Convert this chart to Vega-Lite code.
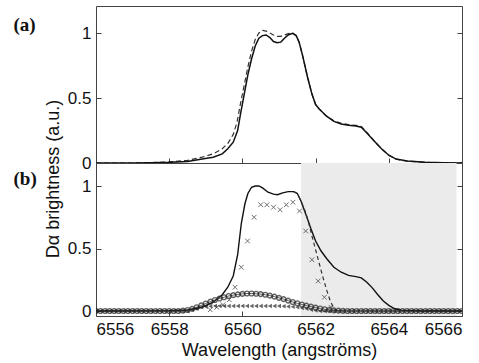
{
"$schema":"https://vega.github.io/schema/vega-lite/v6.json",
"padding":{"left":12,"top":5,"right":5,"bottom":5},
"background":"white",
"spacing":0,
"bounds":"flush",
"config":{
 "font":"Liberation Sans",
 "view":{"stroke":"#444","strokeWidth":1},
 "axis":{"labelFont":"Liberation Sans","labelFontSize":17,"labelColor":"#111","titleFont":"Liberation Sans","titleFontSize":18,"titleFontWeight":"normal","titleColor":"#111","domain":false,"grid":false,"tickSize":-5,"tickColor":"#444","labelPadding":10}
},
"datasets":{
 "lines":[
  {"s":"A1","x":6556,"y":0},{"s":"A1","x":6557,"y":0},{"s":"A1","x":6557.5,"y":0.002},{"s":"A1","x":6558,"y":0.005},{"s":"A1","x":6558.5,"y":0.012},{"s":"A1","x":6558.9,"y":0.03},{"s":"A1","x":6559.2,"y":0.045},{"s":"A1","x":6559.45,"y":0.07},{"s":"A1","x":6559.6,"y":0.11},{"s":"A1","x":6559.75,"y":0.16},{"s":"A1","x":6559.87,"y":0.25},{"s":"A1","x":6559.95,"y":0.38},{"s":"A1","x":6560.05,"y":0.53},{"s":"A1","x":6560.15,"y":0.68},{"s":"A1","x":6560.25,"y":0.8},{"s":"A1","x":6560.35,"y":0.9},{"s":"A1","x":6560.45,"y":0.96},{"s":"A1","x":6560.55,"y":0.98},{"s":"A1","x":6560.65,"y":0.985},{"s":"A1","x":6560.75,"y":0.965},{"s":"A1","x":6560.85,"y":0.935},{"s":"A1","x":6560.95,"y":0.925},{"s":"A1","x":6561.05,"y":0.93},{"s":"A1","x":6561.15,"y":0.96},{"s":"A1","x":6561.25,"y":0.985},{"s":"A1","x":6561.37,"y":0.998},{"s":"A1","x":6561.47,"y":0.98},{"s":"A1","x":6561.55,"y":0.93},{"s":"A1","x":6561.65,"y":0.82},{"s":"A1","x":6561.78,"y":0.66},{"s":"A1","x":6561.9,"y":0.53},{"s":"A1","x":6562.0,"y":0.45},{"s":"A1","x":6562.1,"y":0.415},{"s":"A1","x":6562.3,"y":0.36},{"s":"A1","x":6562.5,"y":0.32},{"s":"A1","x":6562.7,"y":0.3},{"s":"A1","x":6562.9,"y":0.29},{"s":"A1","x":6563.1,"y":0.285},{"s":"A1","x":6563.25,"y":0.275},{"s":"A1","x":6563.4,"y":0.23},{"s":"A1","x":6563.6,"y":0.17},{"s":"A1","x":6563.8,"y":0.11},{"s":"A1","x":6564.0,"y":0.06},{"s":"A1","x":6564.2,"y":0.03},{"s":"A1","x":6564.5,"y":0.015},{"s":"A1","x":6565,"y":0.005},{"s":"A1","x":6565.5,"y":0.002},{"s":"A1","x":6566,"y":0},
  {"s":"A2","x":6556,"y":0},{"s":"A2","x":6557,"y":0},{"s":"A2","x":6557.5,"y":0.003},{"s":"A2","x":6558,"y":0.008},{"s":"A2","x":6558.5,"y":0.02},{"s":"A2","x":6558.9,"y":0.045},{"s":"A2","x":6559.2,"y":0.07},{"s":"A2","x":6559.45,"y":0.11},{"s":"A2","x":6559.6,"y":0.15},{"s":"A2","x":6559.75,"y":0.22},{"s":"A2","x":6559.85,"y":0.31},{"s":"A2","x":6559.95,"y":0.46},{"s":"A2","x":6560.05,"y":0.6},{"s":"A2","x":6560.15,"y":0.74},{"s":"A2","x":6560.25,"y":0.86},{"s":"A2","x":6560.35,"y":0.95},{"s":"A2","x":6560.45,"y":1.0},{"s":"A2","x":6560.55,"y":1.02},{"s":"A2","x":6560.65,"y":1.015},{"s":"A2","x":6560.75,"y":1.0},{"s":"A2","x":6560.85,"y":0.985},{"s":"A2","x":6560.95,"y":0.975},{"s":"A2","x":6561.05,"y":0.975},{"s":"A2","x":6561.15,"y":0.985},{"s":"A2","x":6561.25,"y":0.995},{"s":"A2","x":6561.37,"y":1.0},{"s":"A2","x":6561.47,"y":0.98},{"s":"A2","x":6561.55,"y":0.93},{"s":"A2","x":6561.65,"y":0.82},{"s":"A2","x":6561.78,"y":0.66},{"s":"A2","x":6561.9,"y":0.53},{"s":"A2","x":6562.0,"y":0.45},{"s":"A2","x":6562.1,"y":0.415},{"s":"A2","x":6562.3,"y":0.36},{"s":"A2","x":6562.5,"y":0.325},{"s":"A2","x":6562.7,"y":0.305},{"s":"A2","x":6562.9,"y":0.295},{"s":"A2","x":6563.1,"y":0.29},{"s":"A2","x":6563.25,"y":0.28},{"s":"A2","x":6563.4,"y":0.235},{"s":"A2","x":6563.6,"y":0.17},{"s":"A2","x":6563.8,"y":0.11},{"s":"A2","x":6564.0,"y":0.06},{"s":"A2","x":6564.2,"y":0.03},{"s":"A2","x":6564.5,"y":0.015},{"s":"A2","x":6565,"y":0.005},{"s":"A2","x":6565.5,"y":0.002},{"s":"A2","x":6566,"y":0},
  {"s":"B1","x":6556,"y":0},{"s":"B1","x":6558,"y":0.003},{"s":"B1","x":6558.5,"y":0.008},{"s":"B1","x":6558.9,"y":0.03},{"s":"B1","x":6559.2,"y":0.07},{"s":"B1","x":6559.45,"y":0.13},{"s":"B1","x":6559.6,"y":0.19},{"s":"B1","x":6559.75,"y":0.28},{"s":"B1","x":6559.87,"y":0.45},{"s":"B1","x":6559.97,"y":0.7},{"s":"B1","x":6560.07,"y":0.86},{"s":"B1","x":6560.15,"y":0.94},{"s":"B1","x":6560.25,"y":0.99},{"s":"B1","x":6560.35,"y":1.0},{"s":"B1","x":6560.45,"y":1.0},{"s":"B1","x":6560.55,"y":0.985},{"s":"B1","x":6560.7,"y":0.95},{"s":"B1","x":6560.85,"y":0.935},{"s":"B1","x":6560.96,"y":0.93},{"s":"B1","x":6561.1,"y":0.945},{"s":"B1","x":6561.25,"y":0.955},{"s":"B1","x":6561.4,"y":0.955},{"s":"B1","x":6561.5,"y":0.94},{"s":"B1","x":6561.6,"y":0.88},{"s":"B1","x":6561.75,"y":0.76},{"s":"B1","x":6561.87,"y":0.66},{"s":"B1","x":6562.0,"y":0.56},{"s":"B1","x":6562.15,"y":0.48},{"s":"B1","x":6562.3,"y":0.42},{"s":"B1","x":6562.5,"y":0.35},{"s":"B1","x":6562.7,"y":0.31},{"s":"B1","x":6562.9,"y":0.285},{"s":"B1","x":6563.1,"y":0.275},{"s":"B1","x":6563.25,"y":0.265},{"s":"B1","x":6563.4,"y":0.23},{"s":"B1","x":6563.55,"y":0.185},{"s":"B1","x":6563.7,"y":0.13},{"s":"B1","x":6563.85,"y":0.08},{"s":"B1","x":6564.0,"y":0.045},{"s":"B1","x":6564.15,"y":0.02},{"s":"B1","x":6564.35,"y":0.005},{"s":"B1","x":6565,"y":0},{"s":"B1","x":6566,"y":0},
  {"s":"B2","x":6561.4,"y":0.955},{"s":"B2","x":6561.5,"y":0.94},{"s":"B2","x":6561.6,"y":0.88},{"s":"B2","x":6561.7,"y":0.81},{"s":"B2","x":6561.8,"y":0.72},{"s":"B2","x":6561.9,"y":0.6},{"s":"B2","x":6562.0,"y":0.49},{"s":"B2","x":6562.1,"y":0.38},{"s":"B2","x":6562.2,"y":0.27},{"s":"B2","x":6562.3,"y":0.17},{"s":"B2","x":6562.4,"y":0.08},{"s":"B2","x":6562.5,"y":0.02},{"s":"B2","x":6562.6,"y":0}
 ],
 "xmarks":[
  {"x":6559.12,"y":0.01},{"x":6559.3,"y":0.03},{"x":6559.47,"y":0.05},{"x":6559.64,"y":0.09},{"x":6559.8,"y":0.19},{"x":6559.97,"y":0.35},{"x":6560.14,"y":0.56},{"x":6560.32,"y":0.75},{"x":6560.5,"y":0.85},{"x":6560.67,"y":0.85},{"x":6560.85,"y":0.83},{"x":6561.03,"y":0.81},{"x":6561.2,"y":0.85},{"x":6561.38,"y":0.87},{"x":6561.56,"y":0.8},{"x":6561.73,"y":0.64},{"x":6561.9,"y":0.41},{"x":6562.07,"y":0.24},{"x":6562.24,"y":0.11},{"x":6562.42,"y":0.03}
 ],
 "grid":[
  {"x":6556,"c":0,"t":0},{"x":6556.125,"c":0,"t":0},{"x":6556.25,"c":0,"t":0},{"x":6556.375,"c":0,"t":0},{"x":6556.5,"c":0,"t":0},{"x":6556.625,"c":0,"t":0},{"x":6556.75,"c":0,"t":0},{"x":6556.875,"c":0,"t":0},{"x":6557,"c":0,"t":0},{"x":6557.125,"c":0,"t":0},{"x":6557.25,"c":0,"t":0},{"x":6557.375,"c":0,"t":0},{"x":6557.5,"c":0,"t":0},{"x":6557.625,"c":0,"t":0},{"x":6557.75,"c":0,"t":0},{"x":6557.875,"c":0,"t":0},{"x":6558,"c":0,"t":0},{"x":6558.125,"c":0,"t":0},{"x":6558.25,"c":0,"t":0},
  {"x":6558.375,"c":0.003,"t":0},{"x":6558.5,"c":0.008,"t":0},{"x":6558.625,"c":0.017,"t":0.01},{"x":6558.75,"c":0.03,"t":0.02},{"x":6558.875,"c":0.045,"t":0.03},{"x":6559,"c":0.06,"t":0.035},{"x":6559.125,"c":0.075,"t":0.038},{"x":6559.25,"c":0.088,"t":0.04},{"x":6559.375,"c":0.1,"t":0.04},{"x":6559.5,"c":0.11,"t":0.04},{"x":6559.625,"c":0.12,"t":0.04},{"x":6559.75,"c":0.127,"t":0.04},{"x":6559.875,"c":0.133,"t":0.04},{"x":6560,"c":0.137,"t":0.04},{"x":6560.125,"c":0.14,"t":0.04},{"x":6560.25,"c":0.14,"t":0.04},{"x":6560.375,"c":0.138,"t":0.04},{"x":6560.5,"c":0.135,"t":0.04},{"x":6560.625,"c":0.13,"t":0.04},{"x":6560.75,"c":0.123,"t":0.04},{"x":6560.875,"c":0.115,"t":0.04},{"x":6561,"c":0.105,"t":0.04},{"x":6561.125,"c":0.095,"t":0.038},{"x":6561.25,"c":0.083,"t":0.036},{"x":6561.375,"c":0.072,"t":0.034},{"x":6561.5,"c":0.062,"t":0.03},{"x":6561.625,"c":0.052,"t":0.025},{"x":6561.75,"c":0.043,"t":0.018},{"x":6561.875,"c":0.035,"t":0.01},{"x":6562,"c":0.027,"t":0.004},{"x":6562.125,"c":0.02,"t":0},{"x":6562.25,"c":0.014,"t":0},{"x":6562.375,"c":0.009,"t":0},{"x":6562.5,"c":0.005,"t":0},{"x":6562.625,"c":0.003,"t":0},{"x":6562.75,"c":0.001,"t":0},
  {"x":6562.875,"c":0,"t":0},{"x":6563,"c":0,"t":0},{"x":6563.125,"c":0,"t":0},{"x":6563.25,"c":0,"t":0},{"x":6563.375,"c":0,"t":0},{"x":6563.5,"c":0,"t":0},{"x":6563.625,"c":0,"t":0},{"x":6563.75,"c":0,"t":0},{"x":6563.875,"c":0,"t":0},{"x":6564,"c":0,"t":0},{"x":6564.125,"c":0,"t":0},{"x":6564.25,"c":0,"t":0},{"x":6564.375,"c":0,"t":0},{"x":6564.5,"c":0,"t":0},{"x":6564.625,"c":0,"t":0},{"x":6564.75,"c":0,"t":0},{"x":6564.875,"c":0,"t":0},{"x":6565,"c":0,"t":0},{"x":6565.125,"c":0,"t":0},{"x":6565.25,"c":0,"t":0},{"x":6565.375,"c":0,"t":0},{"x":6565.5,"c":0,"t":0},{"x":6565.625,"c":0,"t":0},{"x":6565.75,"c":0,"t":0},{"x":6565.875,"c":0,"t":0},{"x":6566,"c":0,"t":0}
 ],
 "shade":[{"x1":6561.6,"x2":6565.85}]
},
"vconcat":[
 {
  "width":366,"height":157,
  "data":{"name":"lines"},
  "resolve":{"axis":{"y":"independent"}},
  "layer":[
   {"transform":[{"filter":"datum.s == 'A2'"}],"mark":{"type":"line","color":"#333","strokeWidth":1.2,"strokeDash":[5,3],"clip":true},
    "encoding":{"x":{"field":"x","type":"quantitative","scale":{"domain":[6556,6566],"nice":false,"zero":false},"axis":{"values":[6556,6558,6560,6562,6564,6566],"labels":false,"title":"Dα brightness (a.u.)","titleAngle":270,"titleX":-34,"titleY":15.5,"titleAlign":"center","titleBaseline":"bottom"}},
     "y":{"field":"y","type":"quantitative","scale":{"domain":[0,1.208],"nice":false},"axis":{"values":[0,0.5,1],"format":"~g","title":"(a)","titleAngle":0,"titleX":-83,"titleY":18,"titleAlign":"left","titleBaseline":"middle","titleFont":"Liberation Serif","titleFontSize":19,"titleFontWeight":"bold"}}}},
   {"transform":[{"filter":"datum.s == 'A1'"}],"mark":{"type":"line","color":"#111","strokeWidth":1.5,"clip":true},
    "encoding":{"x":{"field":"x","type":"quantitative"},"y":{"field":"y","type":"quantitative","axis":{"orient":"right","values":[0.5,1],"labels":false,"title":null}}}}
  ]
 },
 {
  "width":366,"height":153,
  "resolve":{"axis":{"y":"independent"}},
  "layer":[
   {"data":{"name":"shade"},"mark":{"type":"rect","color":"#ebebeb"},
    "encoding":{"x":{"field":"x1","type":"quantitative","scale":{"domain":[6556,6566],"nice":false,"zero":false},"axis":{"values":[6556,6558,6560,6562,6564,6566],"format":"d","title":"Wavelength (angströms)"}},"x2":{"field":"x2"}}},
   {"data":{"name":"lines"},"transform":[{"filter":"datum.s == 'B1'"}],"mark":{"type":"line","color":"#111","strokeWidth":1.4,"clip":true},
    "encoding":{"x":{"field":"x","type":"quantitative"},
     "y":{"field":"y","type":"quantitative","scale":{"domain":[-0.04,1.184],"nice":false,"zero":false},"axis":{"values":[0,0.5,1],"format":"~g","title":"(b)","titleAngle":0,"titleX":-83,"titleY":15,"titleAlign":"left","titleBaseline":"middle","titleFont":"Liberation Serif","titleFontSize":19,"titleFontWeight":"bold"}}}},
   {"data":{"name":"lines"},"transform":[{"filter":"datum.s == 'B2'"}],"mark":{"type":"line","color":"#333","strokeWidth":1.2,"strokeDash":[4,3],"clip":true},
    "encoding":{"x":{"field":"x","type":"quantitative"},"y":{"field":"y","type":"quantitative","axis":{"orient":"right","values":[0,0.5,1],"labels":false,"title":null}}}},
   {"data":{"name":"grid"},"mark":{"type":"line","color":"#333","strokeWidth":0.8,"clip":true},
    "encoding":{"x":{"field":"x","type":"quantitative"},"y":{"field":"c","type":"quantitative","axis":null}}},
   {"data":{"name":"grid"},"mark":{"type":"point","shape":"triangle-left","filled":true,"color":"#222","size":22,"clip":true},
    "encoding":{"x":{"field":"x","type":"quantitative"},"y":{"field":"t","type":"quantitative","axis":null}}},
   {"data":{"name":"grid"},"mark":{"type":"point","shape":"circle","filled":false,"color":"#222","strokeWidth":1.4,"size":22,"clip":true},
    "encoding":{"x":{"field":"x","type":"quantitative"},"y":{"field":"c","type":"quantitative","axis":null}}},
   {"data":{"name":"xmarks"},"mark":{"type":"point","shape":"M-1,-1L1,1M-1,1L1,-1","filled":false,"color":"#333","strokeWidth":1,"size":22,"clip":true},
    "encoding":{"x":{"field":"x","type":"quantitative"},"y":{"field":"y","type":"quantitative","axis":null}}}
  ]
 }
]
}
